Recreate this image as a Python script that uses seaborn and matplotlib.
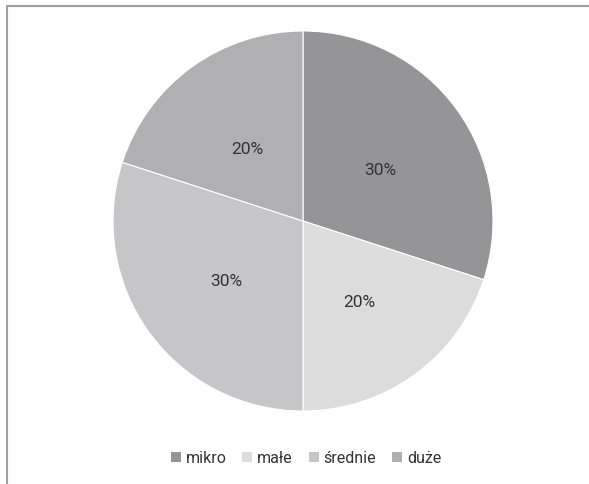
import matplotlib
matplotlib.use("Agg")
import matplotlib.pyplot as plt
import matplotlib.transforms as mtransforms
import seaborn as sns
from matplotlib.lines import Line2D
from matplotlib.patches import Patch

categories = ["mikro", "małe", "średnie", "duże"]
shares = [30, 20, 30, 20]
colors = ["#959597", "#dcdcdd", "#c6c6c8", "#b0b0b2"]

sns.set_style("white")
plt.rcParams['font.family'] = ['Roboto', 'DejaVu Sans']

fig = plt.figure(figsize=(5.89, 4.85), dpi=100)
ax = fig.add_axes([113/589, 73/485, 380/589, 380/485])
palette = sns.color_palette(colors)
wedges, texts, autotexts = ax.pie(
    shares, colors=palette, startangle=90, counterclock=False,
    autopct=lambda p: f"{p:.0f}%", pctdistance=0.5,
    wedgeprops=dict(edgecolor="white", linewidth=0.8),
    textprops=dict(color="#333333", fontsize=12.5))
shift = mtransforms.offset_copy(ax.transData, fig=fig, x=0, y=-4, units="dots")
for t in autotexts:
    t.set_transform(shift)
ax.set_xlim(-1, 1)
ax.set_ylim(-1, 1)
ax.set_aspect("equal")
ax.axis("off")

handles = [Patch(facecolor=c, edgecolor="none") for c in colors]
fig.legend(handles, categories, loc="center", bbox_to_anchor=(306/589, 1 - 459/485),
           ncol=4, frameon=False, fontsize=11.5, handlelength=0.63, handleheight=0.63,
           handletextpad=0.3, columnspacing=1.0, labelcolor="#333333")

fig.add_artist(Line2D([7/589, 7/589], [0, 1 - 7/485], transform=fig.transFigure,
                      color="#a0a0a0", linewidth=1.5))
fig.add_artist(Line2D([7/589, 1], [1 - 7/485, 1 - 7/485], transform=fig.transFigure,
                      color="#a0a0a0", linewidth=1.5))

fig.savefig("out.png", dpi=100, facecolor="white")
